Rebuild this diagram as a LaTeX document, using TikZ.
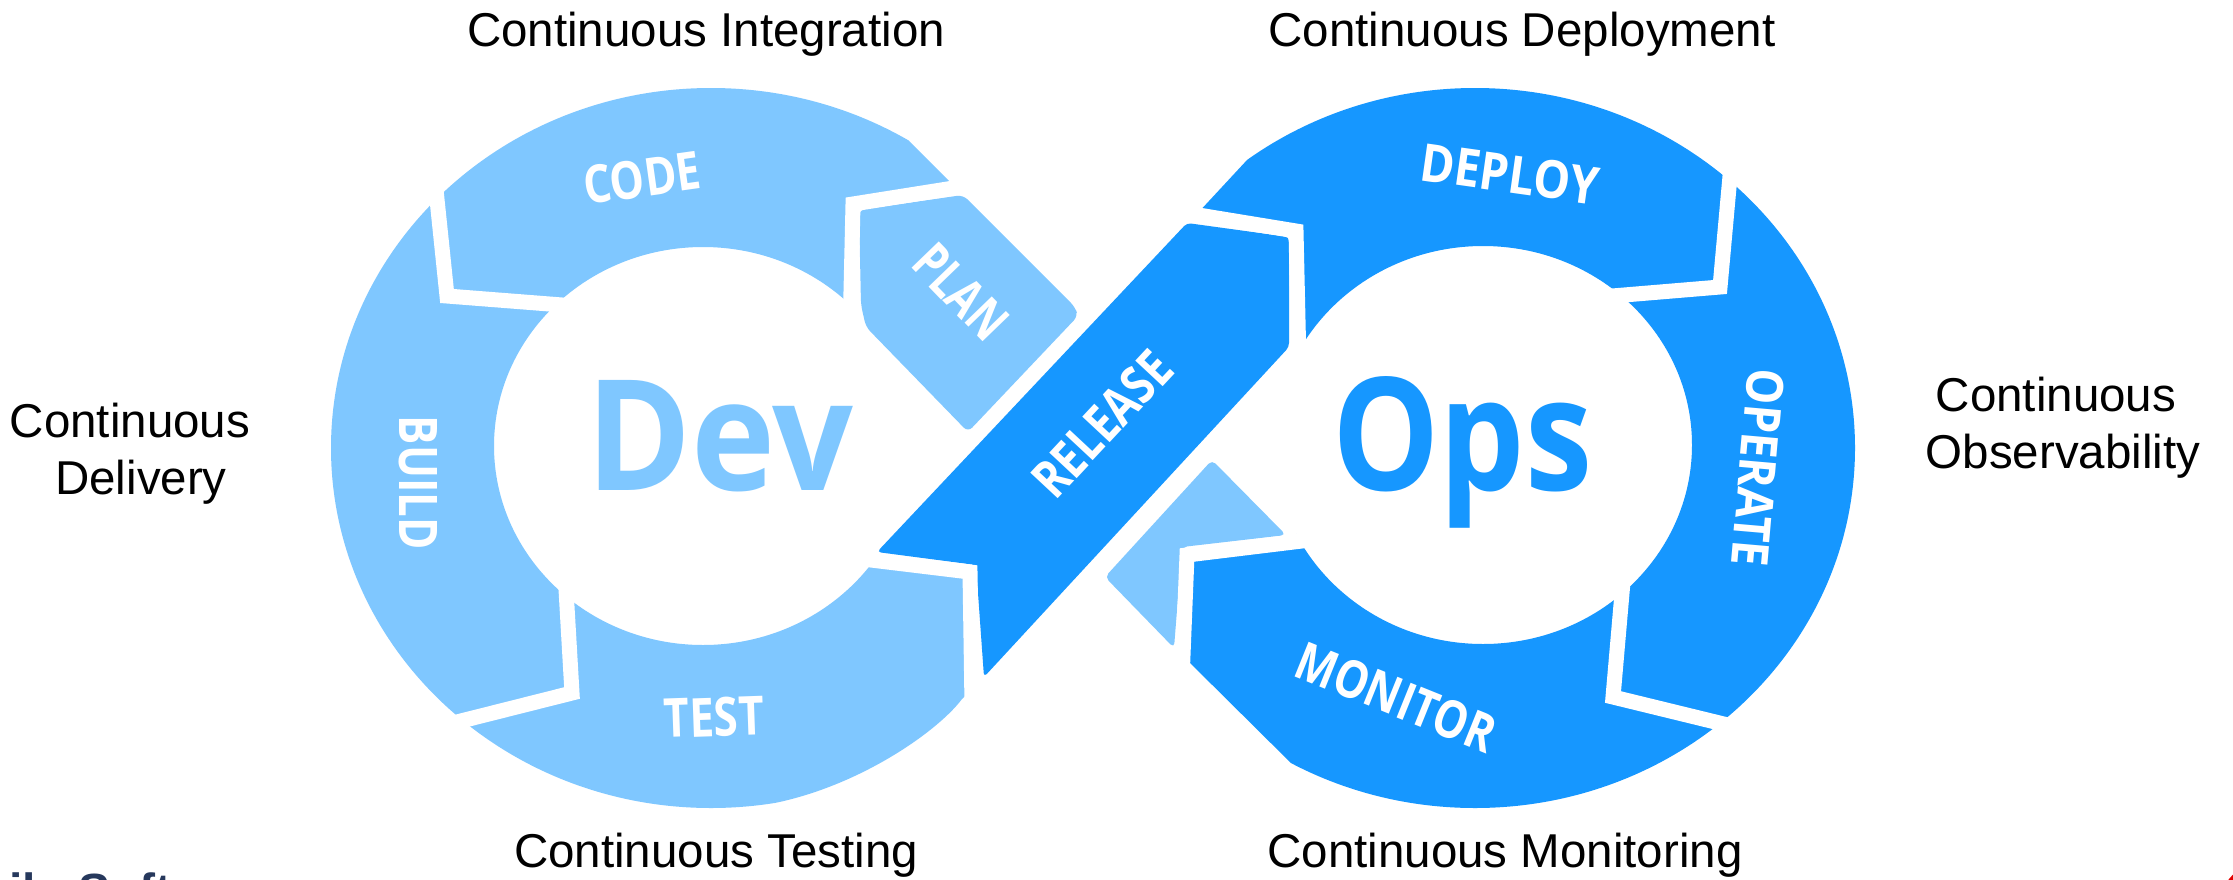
\documentclass[tikz,border=0pt]{standalone}
\usepackage{graphicx}
\usepackage{fontspec}
\setmainfont{Liberation Sans}
\newfontfamily\logofont{Open Sans}
\definecolor{lightb}{RGB}{127,199,255}
\definecolor{darkb}{RGB}{22,151,255}
\definecolor{navy}{RGB}{38,56,92}
\begin{document}
\begin{tikzpicture}[x=1pt,y=-1pt,
  gapline/.style={draw=white, line width=15pt, line cap=butt, line join=miter},
  ringlbl/.style={text=white, inner sep=0pt, font=\logofont\bfseries},
  captxt/.style={font=\fontsize{47.5}{57}\selectfont, inner sep=0pt, anchor=base, text=black}]
\useasboundingbox (0,0) rectangle (2233,879);
\fill[white] (0,0) rectangle (2233,879);

% left loop (Dev)
\begin{scope}
\clip (-50,-50) -- (850,-50) -- (850,82) -- (956,188) -- (853,204) -- (850,440) -- (850,557) -- (871,560) -- (970,572) -- (971,690) -- (962,699) .. controls (935,735) and (840,800) .. (740,808) -- (740,950) -- (-50,950) -- cycle;
\fill[lightb, even odd rule] (711,448) ellipse[x radius=380, y radius=360] (703,446) ellipse[x radius=209, y radius=199];
\end{scope}

% right loop (Ops)
\begin{scope}
\clip (2300,-50) -- (1260,-50) -- (1260,146) -- (1196,215) -- (1296,231) -- (1298,360) -- (1296,540) -- (1187,555) -- (1183,656) -- (1300,772) -- (1300,950) -- (2300,950) -- cycle;
\fill[darkb, even odd rule] (1475,448) ellipse[x radius=380, y radius=360] (1483,445) ellipse[x radius=209, y radius=199];
\end{scope}

% crossing pieces
\fill[lightb, rounded corners=6] (859,210) -- (963,195) -- (1075,307) -- (1078,316) -- (968,432) -- (866,327) -- (861,305) -- cycle;
\fill[lightb, rounded corners=5] (1212,460) -- (1286,535) -- (1182,547) -- (1174,648) -- (1105,577) -- cycle;
\fill[darkb, rounded corners=4] (1187,223) -- (1289,237) -- (1289,347) -- (984,677) -- (976,565) -- (877,552) -- cycle;

% gaps between segments
\draw[gapline] (960,187) -- (853,204) -- (850,335);
\draw[gapline] (435,180) -- (447,296) -- (575,306);
\draw[gapline] (565,572) -- (572,693) -- (445,725);
\draw[gapline] (850,557) -- (871,560) -- (970,572) -- (972,705);
\draw[gapline] (1180,212) -- (1296,231) -- (1299,365);
\draw[gapline] (1600,297) -- (1720,287) -- (1731,165);
\draw[gapline] (1624,570) -- (1613,697) -- (1740,728);
\draw[gapline] (1310,540) -- (1187,555) -- (1182,680);

% segment labels
\node[ringlbl, rotate=8] (code) at (642,178) {\resizebox{118pt}{38pt}{CODE}};
\node[ringlbl, rotate=-46] (plan) at (961,292) {\resizebox{110pt}{38pt}{PLAN}};
\node[ringlbl, rotate=-90] (build) at (418,483) {\resizebox{134pt}{38pt}{BUILD}};
\node[ringlbl, rotate=2] (test) at (714,717) {\resizebox{100pt}{39pt}{TEST}};
\node[ringlbl, rotate=47] (release) at (1102,424) {\resizebox{178pt}{38pt}{RELEASE}};
\node[ringlbl, rotate=-8] (deploy) at (1510,174) {\resizebox{180pt}{38pt}{DEPLOY}};
\node[ringlbl, rotate=-95] (operate) at (1758,468) {\resizebox{198pt}{37pt}{OPERATE}};
\node[ringlbl, rotate=-22] (monitor) at (1396,697) {\resizebox{210pt}{38pt}{MONITOR}};

% Dev / Ops
\node[inner sep=0pt, anchor=base west, text=lightb, font=\logofont\bfseries] (dev) at (586,490) {\resizebox{267pt}{110pt}{Dev}};
\node[inner sep=0pt, anchor=base west, text=darkb, font=\logofont\bfseries] (ops) at (1332,490) {\resizebox{260pt}{114pt}{Ops}};

% captions
\node[captxt] (ci) at (706,46) {Continuous Integration};
\node[captxt] (cdp) at (1522,46) {Continuous Deployment};
\node[captxt] (ct) at (716,867) {Continuous Testing};
\node[captxt] (cm) at (1505,867) {Continuous Monitoring};
\node[captxt] (cdel1) at (130,437) {Continuous};
\node[captxt] (cdel2) at (141,494) {Delivery};
\node[captxt] (cobs1) at (2056,411) {Continuous};
\node[captxt] (cobs2) at (2063,468) {Observability};

% cropped logos at the bottom corners
\node[anchor=base west, inner sep=0pt, text=navy, font=\fontsize{48}{48}\selectfont\bfseries] (logo) at (-55,907) {Agilo Software};
\fill[red!90!black] (2262,905) circle[radius=42];
\end{tikzpicture}
\end{document}
